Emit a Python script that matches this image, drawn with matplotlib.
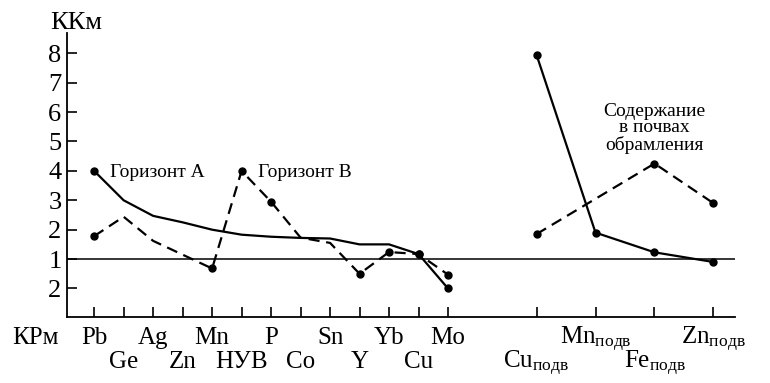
import matplotlib
matplotlib.use("Agg")
import matplotlib.pyplot as plt
import numpy as np

plt.rcParams.update({
    "font.family": "serif",
    "font.serif": ["Liberation Serif", "DejaVu Serif"],
    "mathtext.fontset": "custom",
    "mathtext.rm": "Liberation Serif",
    "mathtext.it": "Liberation Serif",
    "axes.linewidth": 1.3,
})

# categories
left_cats = ["Pb", "Ge", "Ag", "Zn", "Mn", "НУВ", "P", "Co", "Sn", "Y", "Yb", "Cu", "Mo"]
right_cats = ["Cu", "Mn", "Fe", "Zn"]  # mobile forms, subscript "подв"

# values on the axis scale: >=1 is KKм, below 1 the scale counts KРм down (0 -> KРм = 2)
horizon_a = [4.0, 3.0, 2.47, 2.25, 2.0, 1.83, 1.76, 1.72, 1.70, 1.50, 1.50, 1.17, 0.0]
horizon_a_marked = ["Pb", "Cu", "Mo"]
horizon_b_cats = ["Pb", "Ge", "Ag", "Mn", "НУВ", "P", "Co", "Sn", "Y", "Yb", "Cu", "Mo"]
horizon_b = [1.78, 2.44, 1.62, 0.68, 4.0, 2.95, 1.73, 1.55, 0.5, 1.24, 1.17, 0.47]
horizon_b_marked = ["Pb", "Mn", "НУВ", "P", "Y", "Yb", "Cu", "Mo"]

mobile_solid = [7.95, 1.9, 1.23, 0.9]
mobile_dash_cats = ["Cu", "Fe", "Zn"]
mobile_dash = [1.85, 4.25, 2.9]

y_ticks = [8, 7, 6, 5, 4, 3, 2, 1, 0]
y_ticklabels = ["8", "7", "6", "5", "4", "3", "2", "1", "2"]

left_x = {c: i for i, c in enumerate(left_cats)}
right_x = {c: 15 + 2 * i for i, c in enumerate(right_cats)}

fig = plt.figure(figsize=(7.7, 3.83), dpi=100)
ax = fig.add_axes([67 / 770, 66 / 383, 668 / 770, 284 / 383])

dash = (0, (5, 3))
kw_line = dict(color="black", lw=1.6, solid_joinstyle="round")

# horizon A (solid)
xa = [left_x[c] for c in left_cats]
ax.plot(xa, horizon_a, **kw_line)
ax.plot([left_x[c] for c in horizon_a_marked],
        [horizon_a[left_cats.index(c)] for c in horizon_a_marked],
        "o", color="black", ms=5)

# horizon B (dashed)
xb = [left_x[c] for c in horizon_b_cats]
ax.plot(xb, horizon_b, linestyle=dash, **kw_line)
ax.plot([left_x[c] for c in horizon_b_marked],
        [horizon_b[horizon_b_cats.index(c)] for c in horizon_b_marked],
        "o", color="black", ms=5)

# mobile forms
xr = [right_x[c] for c in right_cats]
ax.plot(xr, mobile_solid, marker="o", ms=5, **kw_line)
ax.plot([right_x[c] for c in mobile_dash_cats], mobile_dash,
        linestyle=dash, marker="o", ms=5, **kw_line)

ax.axhline(1, color="black", lw=1.1)

ax.set_xlim(-0.92, 21.73)
ax.set_ylim(-0.97, 8.69)
for s in ["top", "right"]:
    ax.spines[s].set_visible(False)

ax.set_yticks(y_ticks)
ax.set_yticklabels(y_ticklabels, fontsize=19)
ax.tick_params(axis="y", direction="in", length=7, width=1.2, pad=4)
ax.set_xticks(xa + xr)
ax.set_xticklabels([])
ax.tick_params(axis="x", direction="in", length=7, width=1.2)

# category labels in two staggered rows
labels = left_cats + [c + r"$_{\mathregular{подв}}$" for c in right_cats]
for i, (x, lab) in enumerate(zip(xa + xr, labels)):
    y = -0.095 if i % 2 == 0 else -0.18
    ax.text(x, y, lab, transform=ax.get_xaxis_transform(), ha="center",
            va="baseline", fontsize=18)

fig.text(12 / 770, (383 - 344) / 383, "КРм", fontsize=18, va="baseline")
fig.text(50 / 770, (383 - 29) / 383, "ККм", fontsize=19, va="baseline")

ax.text(0.55, 3.94, "Горизонт А", fontsize=14, va="center")
ax.text(5.55, 3.94, "Горизонт В", fontsize=14, va="center")
ax.text(19.0, 5.45, "Содержание\nв почвах\nобрамления", fontsize=14,
        ha="center", va="center", linespacing=0.95)

fig.savefig("out.png", dpi=100, facecolor="white")
